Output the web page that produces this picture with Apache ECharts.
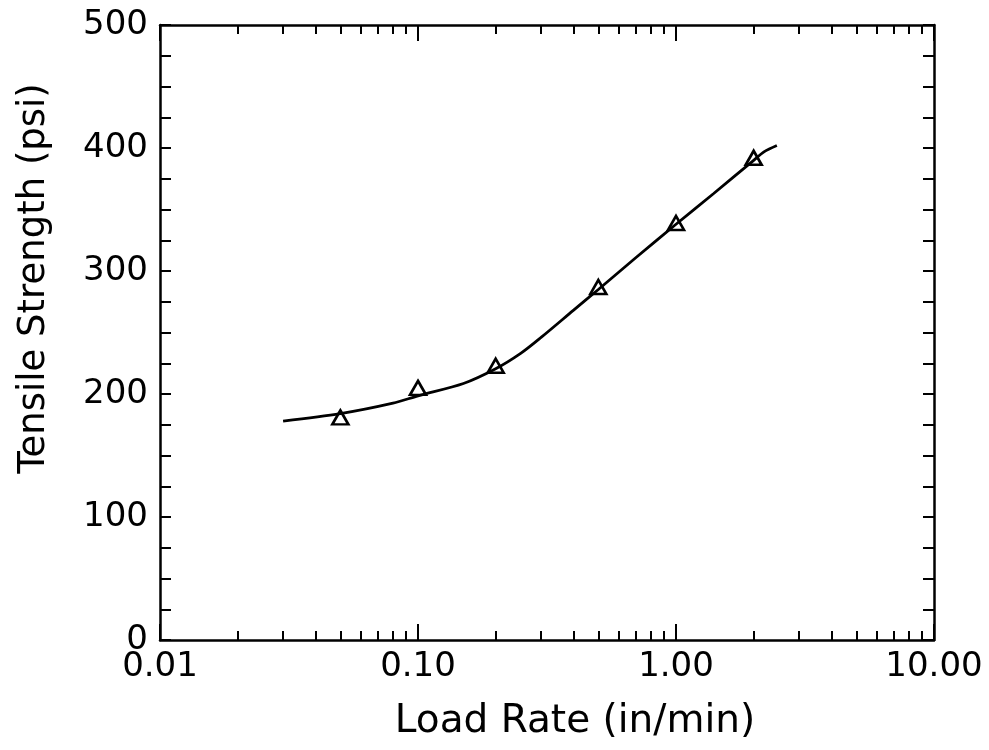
<!DOCTYPE html>
<html>
<head>
<meta charset="utf-8">
<script src="https://cdn.jsdelivr.net/npm/echarts@6/dist/echarts.min.js"></script>
<style>html,body{margin:0;padding:0;background:#fff}#c{width:989px;height:750px}</style>
</head>
<body>
<div id="c"></div>
<script>
// Measured data points (triangles)
const pointRates = [0.05, 0.1, 0.2, 0.5, 1.0, 2.0];
const pointStrengths = [181, 205, 223, 287, 339, 392];
// Fitted curve
const curveRates = [0.03, 0.05, 0.08, 0.1, 0.15, 0.2, 0.25, 0.3, 0.4, 0.5, 0.7, 1.0, 1.4, 2.0, 2.2, 2.46];
const curveStrengths = [178, 184, 192.5, 198.5, 208.5, 220.5, 233, 246, 268, 285, 311, 338, 363, 390, 397, 402];
// Axis ticks
const xMajorTicks = [0.01, 0.1, 1, 10];
const xMinorTicks = [0.02, 0.03, 0.04, 0.05, 0.06, 0.07, 0.08, 0.09,
                     0.2, 0.3, 0.4, 0.5, 0.6, 0.7, 0.8, 0.9,
                     2, 3, 4, 5, 6, 7, 8, 9];
const yMin = 0, yMax = 500, yInterval = 100;

const FONT = 'DejaVu Sans';
const black = '#000';

function xAxisDef(position, major, showLabel, showLine) {
  return {
    type: 'log', logBase: 10, min: 0.01, max: 10, position: position,
    axisLine: { show: showLine, lineStyle: { color: black, width: 2.5 } },
    axisTick: { show: true, inside: true, length: major ? 16 : 9,
                lineStyle: { color: black, width: 2 },
                customValues: major ? xMajorTicks : xMinorTicks },
    axisLabel: { show: showLabel, customValues: xMajorTicks, color: black,
                 fontFamily: FONT, fontSize: 34, margin: 10,
                 formatter: v => Number(v).toFixed(2) },
    splitLine: { show: false }, minorTick: { show: false },
    name: showLabel ? 'Load Rate (in/min)' : '',
    nameLocation: 'middle', nameGap: 62,
    nameTextStyle: { color: black, fontFamily: FONT, fontSize: 39, padding: [0, 0, 0, 56] }
  };
}
function yAxisDef(position, showLabel) {
  return {
    type: 'value', min: yMin, max: yMax, interval: yInterval, position: position,
    axisLine: { show: true, lineStyle: { color: black, width: 2.5 } },
    axisTick: { show: true, inside: true, length: 11, lineStyle: { color: black, width: 2 } },
    minorTick: { show: true, splitNumber: 4, length: 11, lineStyle: { color: black, width: 2 } },
    axisLabel: { show: showLabel, color: black, fontFamily: FONT, fontSize: 34, margin: 12 },
    splitLine: { show: false },
    name: showLabel ? 'Tensile Strength (psi)' : '',
    nameLocation: 'middle', nameGap: 107, nameRotate: 90,
    nameTextStyle: { color: black, fontFamily: FONT, fontSize: 37, padding: [0, 0, 0, 108] }
  };
}

const chart = echarts.init(document.getElementById('c'), null, { renderer: 'canvas' });
chart.setOption({
  animation: false,
  backgroundColor: '#fff',
  grid: { left: 160, right: 55, top: 25, bottom: 110, containLabel: false },
  xAxis: [
    xAxisDef('bottom', true, true, true),
    xAxisDef('bottom', false, false, false),
    xAxisDef('top', true, false, true),
    xAxisDef('top', false, false, false)
  ],
  yAxis: [
    yAxisDef('left', true),
    yAxisDef('right', false)
  ],
  series: [
    {
      type: 'line', xAxisIndex: 0, yAxisIndex: 0,
      data: curveRates.map((r, i) => [r, curveStrengths[i]]),
      smooth: 0.3, symbol: 'none',
      lineStyle: { color: black, width: 2.8 }
    },
    {
      type: 'scatter', xAxisIndex: 0, yAxisIndex: 0,
      data: pointRates.map((r, i) => [r, pointStrengths[i]]),
      symbol: 'triangle', symbolSize: [16, 14],
      itemStyle: { color: '#fff', borderColor: black, borderWidth: 2.6, opacity: 1 }
    }
  ]
});
</script>
</body>
</html>
